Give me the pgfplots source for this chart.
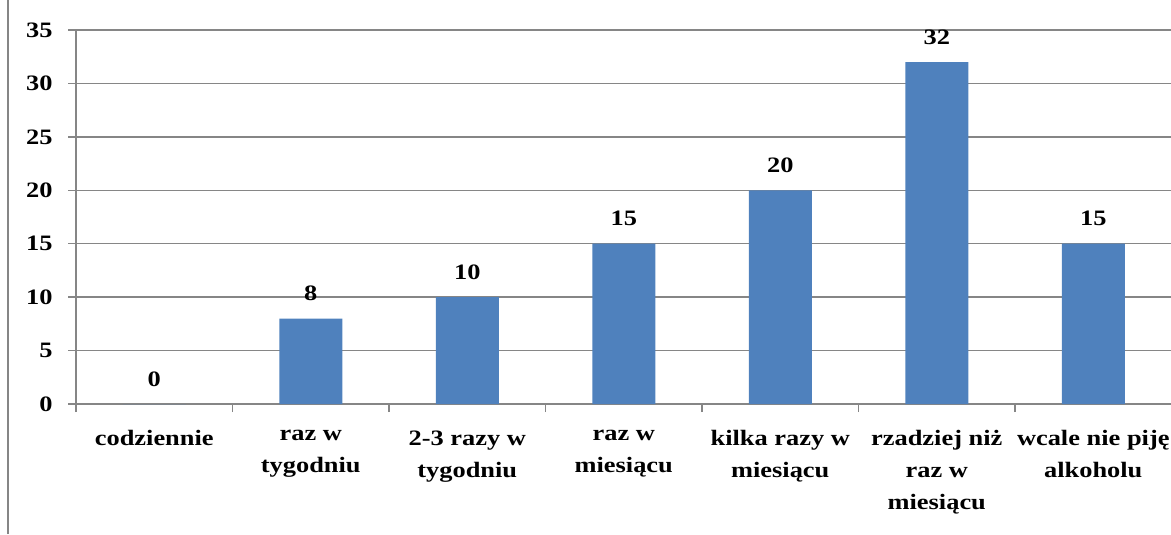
\documentclass[border=0pt]{standalone}
\usepackage{fontspec}
\setmainfont{Liberation Serif}[FakeStretch=1.2]
\usepackage{pgfplots}
\pgfplotsset{compat=1.18}
\definecolor{barblue}{RGB}{79,129,189}
\definecolor{gridgray}{RGB}{134,134,134}

\begin{document}
\begin{tikzpicture}
\begin{axis}[name=ax, width=1095.5pt, height=374pt, scale only axis,
  ybar, bar width=63pt,
  xmin=-0.5, xmax=6.5, ymin=0, ymax=35,
  xtick={-0.5,0.5,...,6.5}, x tick label as interval,
  xticklabels={{codziennie},{raz w\\tygodniu},{2-3 razy w\\tygodniu},{raz w\\miesiącu},
    {kilka razy w\\miesiącu},{rzadziej niż\\raz w\\miesiącu},{wcale nie piję\\alkoholu}},
  xticklabel style={align=center, font=\fontsize{22}{32}\selectfont\bfseries, yshift=-15pt},
  ytick={0,5,...,35},
  yticklabel style={font=\fontsize{22}{26}\selectfont\bfseries, xshift=-12pt},
  /pgf/number format/assume math mode=true,
  axis x line*=bottom, axis y line*=left,
  axis line style={gridgray, line width=1.4pt},
  ymajorgrids, grid style={gridgray, line width=1.4pt},
  tick align=outside, major tick length=8pt,
  tick style={gridgray, line width=1.4pt},
  nodes near coords,
  nodes near coords style={font=\fontsize{22}{26}\selectfont\bfseries, yshift=14pt},
]
\addplot[fill=barblue, draw=none] coordinates {(0,0)(1,8)(2,10)(3,15)(4,20)(5,32)(6,15)};
\end{axis}
\pgfresetboundingbox
\path[use as bounding box] ([xshift=-76pt,yshift=-130pt]ax.south west) rectangle ([xshift=-0.5pt,yshift=30pt]ax.north east);
\draw[gridgray, line width=1.4pt] ([xshift=-68pt,yshift=-130pt]ax.south west) -- ([xshift=-68pt,yshift=30pt]ax.north west);
\end{tikzpicture}
\end{document}
